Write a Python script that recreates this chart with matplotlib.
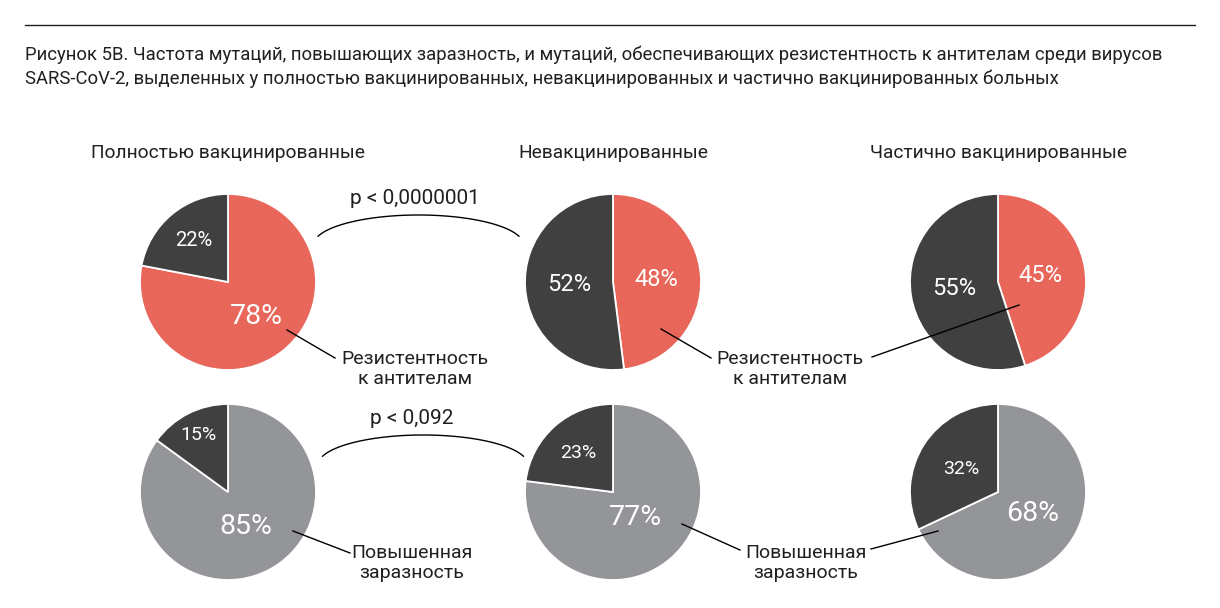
import numpy as np
import matplotlib
matplotlib.use("Agg")
import matplotlib.pyplot as plt

plt.rcParams['font.family'] = ['Roboto', 'DejaVu Sans']

# data
groups = ['Полностью вакцинированные', 'Невакцинированные', 'Частично вакцинированные']
resistance = [78, 48, 45]
contagious = [85, 77, 68]
row_labels = ['Резистентность\nк антителам', 'Повышенная\nзаразность']
p_values = ['p < 0,0000001', 'p < 0,092']
title = ('Рисунок 5В. Частота мутаций, повышающих заразность, и мутаций, обеспечивающих '
         'резистентность к антителам среди вирусов\nSARS-CoV-2, выделенных у полностью '
         'вакцинированных, невакцинированных и частично вакцинированных больных')

RED = '#E8665A'
DARK = '#404041'
GRAY = '#939598'
TXT = '#231F20'
W, H = 1220, 608


def Y(y):
    return H - y


fig = plt.figure(figsize=(W / 100, H / 100), dpi=100)
ax = fig.add_axes([0, 0, 1, 1])

cx = [228, 613, 998]
cy = [282, 492]
R = 88

rows = [
    dict(vals=resistance, color=RED, big=[20.5, 17, 17], small=[14.5, 17, 17],
         dist=[(0.51, 0.61), (0.49, 0.5), (0.49, 0.5)]),
    dict(vals=contagious, color=GRAY, big=[20.5, 20.5, 20.5], small=[14, 14, 14],
         dist=[(0.44, 0.73), (0.39, 0.59), (0.46, 0.49)]),
]

for r, row in enumerate(rows):
    for i, v in enumerate(row['vals']):
        c = (cx[i], Y(cy[r]))
        ax.pie([v, 100 - v], colors=[row['color'], DARK], startangle=90,
               counterclock=False, center=c, radius=R,
               wedgeprops=dict(edgecolor='white', linewidth=1.3))
        # percent labels at mid angles of wedges
        a_main = np.deg2rad(90 - v / 100 * 180)
        a_rest = np.deg2rad(90 + (100 - v) / 100 * 180)
        d1, d2 = row['dist'][i]
        ax.text(c[0] + d1 * R * np.cos(a_main), c[1] + d1 * R * np.sin(a_main),
                f'{v}%', color='white', fontsize=row['big'][i],
                ha='center', va='center')
        ax.text(c[0] + d2 * R * np.cos(a_rest), c[1] + d2 * R * np.sin(a_rest),
                f'{100 - v}%', color='white', fontsize=row['small'][i],
                ha='center', va='center')

# column headers
for i, g in enumerate(groups):
    ax.text(cx[i], Y(153), g, fontsize=13.8, color=TXT, ha='center', va='center')

# row labels with leader lines
for (tx, ty), lab in zip([(415, 369), (790, 369), (412, 563), (806, 563)],
                         [row_labels[0], row_labels[0], row_labels[1], row_labels[1]]):
    ax.text(tx, Y(ty), lab, fontsize=14, color=TXT, ha='center',
            va='center', linespacing=1.2)

leaders = [((287, 330), (335, 358)), ((661, 329), (711, 358)),
           ((1019, 305), (872, 357)), ((293, 531), (350, 553)),
           ((682, 524), (740, 550)), ((938, 531), (871, 549))]
for (x0, y0), (x1, y1) in leaders:
    ax.plot([x0, x1], [Y(y0), Y(y1)], color='black', lw=1.0)

# significance arcs (upper part of an ellipse)
t = np.deg2rad(np.linspace(17, 163, 100))
for (ex, ey, tx, ty), p in zip([(418.5, 245, 415, 199), (423, 465, 412, 418)], p_values):
    ax.plot(ex + 105 * np.cos(t), Y(ey) + 30 * np.sin(t), color='black', lw=1.0)
    ax.text(tx, Y(ty), p, fontsize=15, color=TXT, ha='center', va='center')

# title and rule
ax.plot([25, 1195], [Y(25), Y(25)], color=TXT, lw=1.0)
ax.text(25, Y(66.5), title, fontsize=13.3, color=TXT, ha='left', va='center',
        linespacing=1.4)

ax.set_xlim(0, W)
ax.set_ylim(0, H)
ax.set_aspect('auto')
ax.axis('off')

fig.savefig('out.png', dpi=100, facecolor='white')
